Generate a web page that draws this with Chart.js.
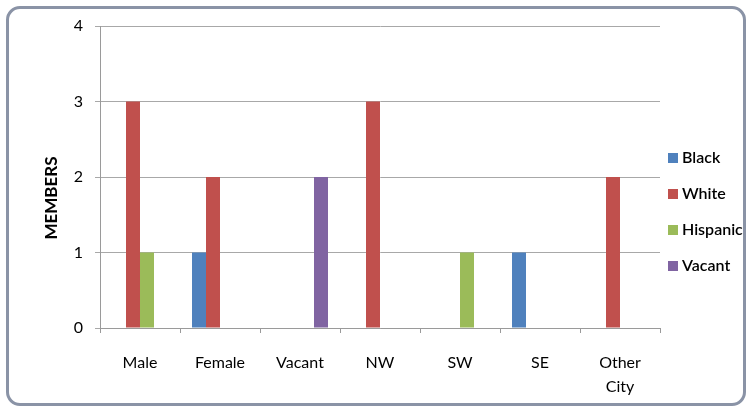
<!DOCTYPE html>
<html>
<head>
<meta charset="utf-8">
<script src="https://cdn.jsdelivr.net/npm/chart.js@4.4.0/dist/chart.umd.min.js"></script>
<style>
  html,body{margin:0;padding:0;background:#fff;}
  #wrap{position:absolute;left:6px;top:6px;width:734px;height:394px;border:3px solid #8a93a6;border-radius:14px;background:#fff;}
  #c{position:absolute;left:0;top:0;}
</style>
</head>
<body>
<div id="wrap"></div>
<canvas id="c" width="750" height="412"></canvas>
<script>
  // categories + series
  const categories = ['Male','Female','Vacant','NW','SW','SE',['Other','City']];
  const black    = [0,1,0,0,0,1,0];
  const white    = [3,2,0,3,0,0,2];
  const hispanic = [1,0,0,0,1,0,0];
  const vacant   = [0,0,2,0,0,0,0];
  const yTicks   = [0,1,2,3,4];

  const font = "Lato, 'Open Sans', sans-serif";
  const ds = (label,data,color)=>({label,data,backgroundColor:color,borderWidth:0,barPercentage:1,categoryPercentage:0.7});

  // legend + axis title drawn by hand (Excel puts them off-centre)
  const extras = {
    id:'extras',
    afterDraw(chart){
      const ctx = chart.ctx;
      ctx.save();
      ctx.font = '600 16px ' + font;
      ctx.textBaseline = 'middle';
      chart.data.datasets.forEach((d,i)=>{
        const y = 158 + i*36;
        ctx.fillStyle = d.backgroundColor;
        ctx.fillRect(668, y-5, 10, 10);
        ctx.fillStyle = '#000';
        ctx.fillText(d.label, 682, y);
      });
      ctx.translate(52, 198);
      ctx.rotate(-Math.PI/2);
      ctx.textAlign = 'center';
      ctx.font = 'bold 17px ' + font;
      ctx.fillText('MEMBERS', 0, 0);
      ctx.restore();
    }
  };

  new Chart(document.getElementById('c'), {
    type:'bar',
    data:{
      labels:categories,
      datasets:[
        ds('Black',black,'#4f81bd'),
        ds('White',white,'#c0504d'),
        ds('Hispanic',hispanic,'#9bbb59'),
        ds('Vacant',vacant,'#8064a2')
      ]
    },
    plugins:[extras],
    options:{
      responsive:false, animation:false,
      layout:{padding:{left:40,top:26,right:90,bottom:0}},
      plugins:{
        legend:{display:false},
        tooltip:{enabled:false}
      },
      scales:{
        x:{
          afterFit:(s)=>{ s.height = 84; },
          grid:{drawOnChartArea:false,color:'#9a9a9a',tickLength:5},
          border:{color:'#9a9a9a'},
          ticks:{color:'#000',font:{family:font,size:16,lineHeight:1.5},maxRotation:0,padding:18}
        },
        y:{
          min:0,max:4,
          afterBuildTicks:(s)=>{ s.ticks = yTicks.map(v=>({value:v})); },
          afterFit:(s)=>{ s.width = 60; },
          grid:{color:'#a8a8a8',tickLength:5},
          border:{color:'#9a9a9a'},
          ticks:{color:'#000',font:{family:font,size:16},padding:12}
        }
      }
    }
  });
</script>
</body>
</html>
